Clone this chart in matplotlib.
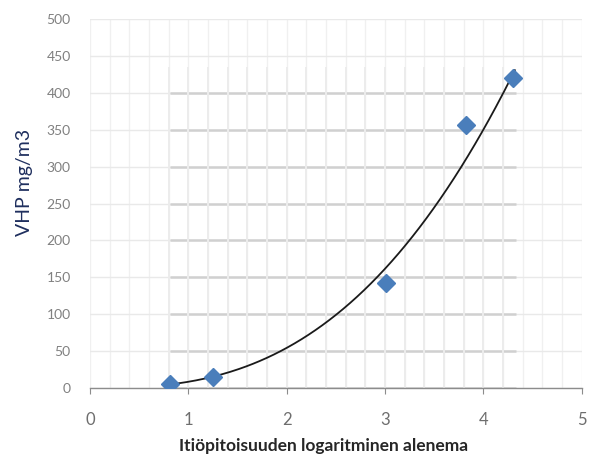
import numpy as np
import matplotlib
matplotlib.use("Agg")
import matplotlib.pyplot as plt

# spore reduction (log) vs. VOC concentration
log_reduction = [0.81, 1.25, 3.01, 3.82, 4.30]
vhp_mg_m3 = [5, 15, 142, 356, 420]

x_ticks = [0, 1, 2, 3, 4, 5]
y_ticks = list(range(0, 501, 50))

plt.rcParams['font.family'] = ['Lato', 'DejaVu Sans']

x = np.array(log_reduction)
y = np.array(vhp_mg_m3)

# power trendline y = a * x^b, fitted in log-log space
b, ln_a = np.polyfit(np.log(x), np.log(y), 1)
xs = np.linspace(x.min(), x.max() + 0.02, 200)
ys = np.exp(ln_a) * xs ** b

fig = plt.figure(figsize=(5.93, 4.57), dpi=100)
ax = fig.add_axes([0.152, 0.151, 0.829, 0.807])
ax.set_xlim(0, 5)
ax.set_ylim(0, 500)

# faint background grid
for gx in np.arange(0, 5.01, 0.2):
    ax.axvline(gx, color='#f0f0f0', lw=1.0, zorder=0)
for gy in y_ticks:
    ax.axhline(gy, color='#e9e9e9', lw=1.0, zorder=0)

# stronger grid block behind the measured range
x0, x1 = x.min(), x.max() + 0.03
top = ys.max() + 5
for gy in y_ticks:
    if gy <= top:
        ax.hlines(gy, x0, x1, color='#d0d0d0', lw=1.8, zorder=1)
for gx in np.arange(0.8, x1, 0.2):
    ax.vlines(gx, 0, top, color='#ececec', lw=1.4, zorder=1.5)

ax.plot(xs, ys, color='#1a1a1a', lw=1.3, zorder=3)
ax.plot(x, y, linestyle='none', marker='D', markersize=9.5,
        color='#4a7ebb', markeredgecolor='#4a7ebb', zorder=4)

for side in ['left', 'right', 'top']:
    ax.spines[side].set_visible(False)
ax.spines['bottom'].set_color('#8c8c8c')
ax.spines['bottom'].set_linewidth(1.0)
ax.spines['bottom'].set_zorder(2)

ax.set_xticks(x_ticks)
ax.set_yticks(y_ticks)
ax.tick_params(axis='x', direction='out', length=4, color='#8c8c8c',
               labelsize=12, labelcolor='#6e6e6e', pad=13)
ax.tick_params(axis='y', length=0, labelsize=10, labelcolor='#808080', pad=14)

ax.set_xlabel('Itiöpitoisuuden logaritminen alenema', fontsize=12.5,
              fontweight='bold', color='#262626', va='center')
ax.xaxis.set_label_coords(0.475, -0.158)
fig.text(0.042, 0.60, 'VHP mg/m3', rotation=90, fontsize=14,
         color='#1f2f5e', ha='center', va='center')

fig.savefig('out.png', dpi=100, facecolor='white')
